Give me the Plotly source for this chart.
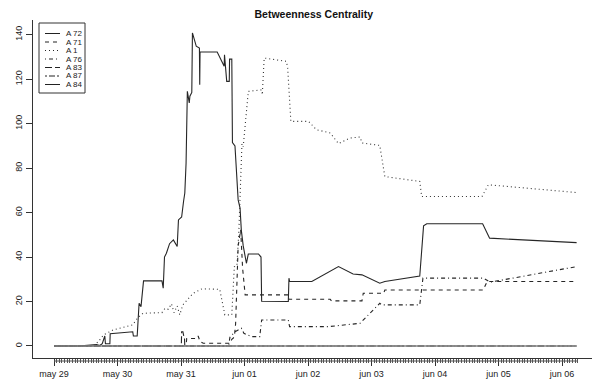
import pandas as pd
import plotly.graph_objects as go

# ---------------- data (time in days after may 29 00:00, betweenness values) ----------------
START = "2009-05-29"
day_labels = ["may 29", "may 30", "may 31", "jun 01", "jun 02", "jun 03", "jun 04", "jun 05", "jun 06"]
y_ticks = [0, 20, 40, 60, 80, 100, 120, 140]
title_text = "Betweenness Centrality"

series_names = ["A 72", "A 71", "A 1", "A 76", "A 83", "A 87", "A 84"]

a72_t = [0, 0.38, 0.67, 0.72, 0.76, 0.78, 0.80, 0.81, 0.88, 0.885, 1.24, 1.25, 1.31, 1.34, 1.37,
         1.41, 1.70, 1.72, 1.74, 1.77, 1.82, 1.88, 1.94, 1.96, 2.01, 2.04, 2.06, 2.08, 2.10, 2.13,
         2.14, 2.17, 2.18, 2.24, 2.29, 2.295, 2.30, 2.57, 2.68, 2.685, 2.72, 2.76, 2.765, 2.80, 2.81,
         2.85, 2.88, 2.90, 2.93, 2.95, 2.98, 3.03, 3.06, 3.22, 3.26, 3.27, 3.69, 3.70, 3.71, 4.06,
         4.35, 4.48, 4.71, 4.85, 5.13, 5.21, 5.76, 5.82, 5.87, 6.75, 6.86, 8.23]
a72_v = [0, 0, 0.6, 0.2, 1, 2.7, 4.5, 1, 1, 5.5, 6.4, 4.5, 4.5, 19.2, 17.7,
         29.3, 29.3, 26, 40, 41.7, 46, 47.7, 44.7, 56.7, 58, 65, 68.8, 82.3, 114.5, 109.3,
         112.3, 114, 140.8, 134.8, 134, 117.5, 132.2, 132.2, 125.8, 131, 119, 119, 129, 129, 91.5,
         90, 75, 65.7, 62, 52, 45, 37.2, 41.4, 41.4, 40, 20.1, 20, 30.5, 29, 29,
         33.5, 35.7, 32.4, 32, 28.2, 29, 31.5, 54, 55, 55, 48.5, 46.5]

a71_t = [0, 2.08, 2.09, 2.25, 2.27, 2.30, 2.35, 2.77, 2.80, 2.84, 2.86, 2.90, 2.94, 2.97, 3.01,
         3.69, 3.70, 4.35, 4.37, 4.85, 4.87, 5.19, 5.21, 6.76, 6.82, 8.23]
a71_v = [0, 0, 3.4, 3.4, 4.5, 2, 1.2, 1.2, 3, 4, 10, 45, 52.2, 35, 23,
         23, 21, 21, 20.3, 20.3, 23.7, 23.7, 25.2, 25.2, 29, 29]

a1_t = [0, 0.62, 0.70, 0.78, 0.93, 1.24, 1.31, 1.40, 1.70, 1.75, 1.80, 1.85, 1.89, 1.94, 1.98,
        2.03, 2.19, 2.33, 2.61, 2.69, 2.80, 2.84, 2.88, 2.91, 2.94, 2.96, 2.98, 3.06, 3.27, 3.28,
        3.31, 3.66, 3.68, 3.73, 4.01, 4.13, 4.35, 4.48, 4.66, 4.82, 4.85, 5.13, 5.21, 5.76, 5.79,
        6.74, 6.84, 8.23]
a1_v = [0, 0, 2, 5, 7.2, 9.5, 12.4, 14.7, 15, 17, 16.5, 19, 15, 18, 14,
        18.5, 23.7, 25.7, 25.5, 14, 14, 35.7, 36, 51, 75, 91, 89.7, 114.5, 115.2, 113,
        129.5, 128, 125, 101, 101, 97.3, 95.8, 91, 93.5, 94, 91.3, 90.2, 76.2, 74, 67.2,
        67.2, 72.5, 69]

a76_t = [0, 2.75, 2.77, 2.85, 2.90, 2.95, 2.99, 3.04, 3.11, 3.24, 3.27, 3.69, 3.71, 4.32, 4.82,
         5.13, 5.16, 5.76, 5.81, 6.76, 6.87, 8.23]
a76_v = [0, 0, 3.9, 6.4, 7.2, 8, 5.7, 5, 4.2, 4.2, 11.7, 11.7, 8.7, 8.7, 10.2,
         19.2, 18.5, 18.5, 30.5, 30.5, 28.7, 35.7]

a83_t = [0, 2.005, 2.01, 2.03, 2.05, 2.055, 2.06, 8.23]
a83_v = [0, 0, 6.4, 6.4, 3.5, 3.5, 0, 0]

a87_t = [0, 8.23]
a87_v = [0, 0]

a84_t = [0, 8.23]
a84_v = [0, 0]

series_t = [a72_t, a71_t, a1_t, a76_t, a83_t, a87_t, a84_t]
series_v = [a72_v, a71_v, a1_v, a76_v, a83_v, a87_v, a84_v]

# ---------------- styles ----------------
dashes = ["solid", "4px,4px", "1px,3px", "1px,3px,4px,3px", "7px,3px", "2px,2px,6px,2px", "solid"]
line_colors = ["#262626", "#262626", "#333333", "#262626", "#262626", "#262626", "#8a8a8a"]
line_widths = [1.1, 1.1, 1.1, 1.1, 1.1, 1.1, 1.6]
FONT = "Liberation Sans, Arial, sans-serif"
INK = "#222222"

base = pd.Timestamp(START)
def to_dt(days):
    return [base + pd.to_timedelta(d, unit="D") for d in days]

fig = go.Figure()
for name, t, v, dsh, col, lw in zip(series_names, series_t, series_v, dashes, line_colors, line_widths):
    fig.add_trace(go.Scatter(x=to_dt(t), y=v, mode="lines", name=name, showlegend=False,
                             line=dict(color=col, width=lw, dash=dsh)))

# axes geometry (pixels): plot box 33..592 x, 20..358 y
W, H = 592, 386
L, R, T, B = 33, 0, 20, 28
pw, ph = W - L - R, H - T - B
px_per_day = 63.5
day0_px = 54
x_start = base + pd.to_timedelta((L - day0_px) / px_per_day, unit="D")
x_end = base + pd.to_timedelta((W - R - day0_px) / px_per_day, unit="D")

major_vals = [base + pd.Timedelta(days=i) for i in range(len(day_labels))]
minor_vals = list(pd.date_range(base, base + pd.to_timedelta(8.25, unit="D"), freq="h"))

fig.update_xaxes(type="date", range=[x_start, x_end], showgrid=False, zeroline=False,
                 showline=True, linecolor="#333", linewidth=1,
                 tickmode="array", tickvals=major_vals, ticktext=day_labels,
                 ticks="outside", ticklen=7, tickwidth=1, tickcolor="#333",
                 tickfont=dict(family=FONT, size=9, color=INK),
                 minor=dict(tickmode="array", tickvals=minor_vals, ticks="outside",
                            ticklen=4, tickwidth=1, tickcolor="#555"))
fig.update_yaxes(range=[-5.4, 146.6], showgrid=False, zeroline=False,
                 showline=True, linecolor="#333", linewidth=1,
                 tickmode="array", tickvals=y_ticks, ticks="outside", ticklen=6,
                 tickcolor="#333", tickangle=-90,
                 tickfont=dict(family=FONT, size=9, color=INK))

# axis line under the date ticks (R draws it separately from the box)
fig.add_shape(type="line", xref="x", yref="paper",
              x0=major_vals[0], x1=minor_vals[-1], y0=-3 / ph, y1=-3 / ph,
              line=dict(color="#555", width=1))

# ---------------- custom compact legend ----------------
def px_x(p):
    return (p - L) / pw
def px_y(p):
    return (H - B - p) / ph

leg_x0, leg_x1, leg_y0, leg_y1 = 39, 85, 23, 93
fig.add_shape(type="rect", xref="paper", yref="paper",
              x0=px_x(leg_x0), x1=px_x(leg_x1), y0=px_y(leg_y1), y1=px_y(leg_y0),
              line=dict(color="#333", width=1), fillcolor="white")
row0, row_gap = 33.5, 8.5
for i, (name, dsh) in enumerate(zip(series_names, dashes)):
    yy = row0 + i * row_gap
    fig.add_shape(type="line", xref="paper", yref="paper",
                  x0=px_x(45), x1=px_x(60), y0=px_y(yy), y1=px_y(yy),
                  line=dict(color="#222", width=1, dash=dsh))
    fig.add_annotation(xref="paper", yref="paper", x=px_x(64), y=px_y(yy),
                       text=name, showarrow=False, xanchor="left", yanchor="middle",
                       font=dict(family=FONT, size=8, color=INK))

fig.update_layout(
    width=W, height=H,
    margin=dict(l=L, r=R, t=T, b=B),
    plot_bgcolor="white", paper_bgcolor="white",
    title=dict(text="<b>" + title_text + "</b>", x=0.53, xanchor="center",
               y=1 - 14 / H, yanchor="middle",
               font=dict(family=FONT, size=10.5, color="#111")),
)

fig.write_html("out.html")
